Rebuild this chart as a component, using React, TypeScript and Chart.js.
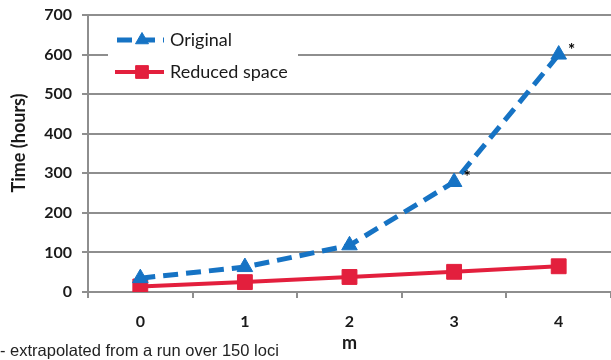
import React, { useEffect, useRef } from 'react';
import { Chart, registerables } from 'chart.js';
import { drawPoint } from 'chart.js/helpers';

Chart.register(...registerables);

const categories = ['0', '1', '2', '3', '4'];
const originalHours = [35, 63, 118, 278, 600];
const reducedHours = [14, 25, 38, 51, 65];
const yMin = 0;
const yMax = 700;
const yStep = 100;
const asteriskIndices = [3, 4];
const seriesNames = ['Original', 'Reduced space'];
const yTitle = 'Time (hours)';
const xTitle = 'm';
const footnote = '- extrapolated from a run over 150 loci';

const BLUE = '#1673c4';
const RED = '#e31f3d';
const GRID = '#8e8e8e';
const TEXT = '#1a1a1a';
const FONT = 'Lato, "Open Sans", sans-serif';

const annotationsPlugin = {
  id: 'annotations',
  afterDatasetsDraw(chart: any) {
    const ctx = chart.ctx;
    ctx.save();
    // asterisks next to extrapolated points
    const meta = chart.getDatasetMeta(0);
    ctx.fillStyle = '#000';
    ctx.font = `bold 17px ${FONT}`;
    ctx.textAlign = 'center';
    ctx.textBaseline = 'middle';
    asteriskIndices.forEach((i) => {
      const p = meta.data[i];
      if (p) ctx.fillText('*', p.x + 13, p.y - 4);
    });

    // legend box
    ctx.fillStyle = '#fff';
    ctx.fillRect(108, 22, 190, 66);
    chart.data.datasets.forEach((ds: any, i: number) => {
      const y = 40 + 32 * i;
      ctx.save();
      ctx.strokeStyle = ds.borderColor;
      ctx.lineWidth = ds.borderWidth;
      ctx.setLineDash(ds.borderDash || []);
      ctx.lineDashOffset = ds.borderDash ? -2 : 0;
      ctx.beginPath();
      ctx.moveTo(115, y);
      ctx.lineTo(164, y);
      ctx.stroke();
      ctx.restore();
      ctx.save();
      ctx.fillStyle = ds.backgroundColor;
      ctx.strokeStyle = ds.borderColor;
      ctx.lineWidth = 1;
      drawPoint(ctx, { pointStyle: ds.pointStyle, radius: ds.pointRadius - 1.5, rotation: 0, borderWidth: 1 }, 142, y);
      ctx.restore();
      ctx.fillStyle = TEXT;
      ctx.font = `18px ${FONT}`;
      ctx.textAlign = 'left';
      ctx.textBaseline = 'middle';
      ctx.fillText(ds.label, 170, y);
    });
    ctx.restore();
  },
  afterDraw(chart: any) {
    const ctx = chart.ctx;
    ctx.save();
    ctx.fillStyle = '#222';
    ctx.font = '16.5px "Liberation Sans", Arial, sans-serif';
    ctx.textAlign = 'left';
    ctx.textBaseline = 'middle';
    ctx.fillText(footnote, 0, 351);
    // y-axis title
    ctx.fillStyle = TEXT;
    ctx.font = `bold 18px ${FONT}`;
    ctx.textAlign = 'center';
    ctx.translate(19, 143);
    ctx.rotate(-Math.PI / 2);
    ctx.fillText(yTitle, 0, 0);
    ctx.restore();
  },
};

export default function App() {
  const canvasRef = useRef<HTMLCanvasElement>(null);

  useEffect(() => {
    if (!canvasRef.current) return;
    const chart = new Chart(canvasRef.current, {
      type: 'line',
      data: {
        labels: categories,
        datasets: [
          {
            label: seriesNames[0],
            data: originalHours,
            borderColor: BLUE,
            backgroundColor: BLUE,
            borderWidth: 5,
            borderDash: [15, 8],
            pointStyle: 'triangle',
            pointRadius: 9,
            pointBorderWidth: 1,
            tension: 0,
          },
          {
            label: seriesNames[1],
            data: reducedHours,
            borderColor: RED,
            backgroundColor: RED,
            borderWidth: 4,
            pointStyle: 'rect',
            pointRadius: 10.5,
            pointBorderWidth: 1,
            tension: 0,
          },
        ],
      },
      options: {
        responsive: false,
        animation: false,
        devicePixelRatio: 1,
        layout: { autoPadding: false, padding: { top: 15, left: 0, right: 0, bottom: 0 } },
        plugins: {
          legend: { display: false },
          tooltip: { enabled: false },
        },
        scales: {
          x: {
            type: 'category',
            offset: true,
            grid: {
              offset: true,
              drawOnChartArea: false,
              drawTicks: true,
              tickLength: 6,
              color: GRID,
              lineWidth: 2,
            },
            border: { display: true, color: GRID, width: 2 },
            ticks: {
              color: TEXT,
              font: { family: FONT, size: 16, weight: 'bold' },
              padding: 14,
            },
            title: {
              display: true,
              text: xTitle,
              color: TEXT,
              font: { family: FONT, size: 18, weight: 'bold' },
              padding: { top: 0, bottom: 6 },
            },
            afterFit(scale: any) {
              scale.height = 68;
              scale.paddingLeft = 0;
              scale.paddingRight = 0;
            },
          },
          y: {
            min: yMin,
            max: yMax,
            ticks: {
              stepSize: yStep,
              color: TEXT,
              font: { family: FONT, size: 16, weight: 'bold' },
              padding: 10,
            },
            grid: {
              color: GRID,
              lineWidth: 2,
              tickLength: 6,
              drawTicks: true,
            },
            border: { display: true, color: GRID, width: 2 },
            title: { display: false, text: yTitle },
            afterFit(scale: any) {
              scale.width = 88;
              scale.paddingTop = 0;
              scale.paddingBottom = 0;
            },
          },
        },
      },
      plugins: [annotationsPlugin],
    });
    return () => chart.destroy();
  }, []);

  return (
    <div style={{ position: 'fixed', left: 0, top: 0, width: 611, height: 360, background: '#fff' }}>
      <canvas ref={canvasRef} width={611} height={360} />
    </div>
  );
}
